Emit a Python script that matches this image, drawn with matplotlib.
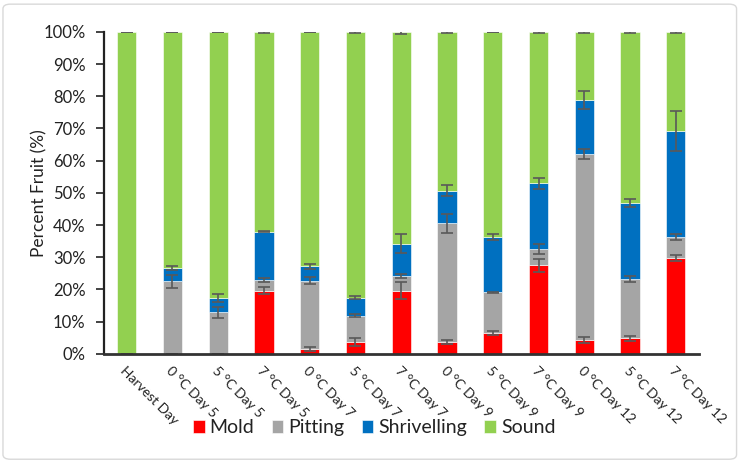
import matplotlib
matplotlib.use('Agg')
import matplotlib.pyplot as plt
from matplotlib.patches import FancyBboxPatch
from matplotlib.ticker import PercentFormatter
import numpy as np

plt.rcParams['font.family'] = ['Lato', 'DejaVu Sans']

# --- Data (percent of fruit) ---
labels = ['Harvest Day', '0 \u00b0C Day 5', '5 \u00b0C Day 5', '7 \u00b0C Day 5',
          '0 \u00b0C Day 7', '5 \u00b0C Day 7', '7 \u00b0C Day 7',
          '0 \u00b0C Day 9', '5 \u00b0C Day 9', '7 \u00b0C Day 9',
          '0 \u00b0C Day 12', '5 \u00b0C Day 12', '7 \u00b0C Day 12']

mold = [0, 0, 0, 19.6, 1.5, 3.8, 19.6, 3.8, 6.5, 27.5, 4.4, 4.8, 29.9]
pitting = [0, 22.5, 12.9, 3.3, 21.2, 8.1, 4.6, 36.7, 12.6, 5.0, 57.7, 18.5, 6.4]
shrivelling = [0, 4.2, 4.5, 15.0, 4.5, 5.6, 10.0, 10.2, 17.2, 20.5, 16.7, 23.6, 32.8]
sound = [100 - (m + p + s) for m, p, s in zip(mold, pitting, shrivelling)]

mold_err = [0, 0, 0, 1.1, 0.5, 1.2, 2.7, 0.6, 0.5, 2.0, 0.9, 0.9, 0.9]
pitting_err = [0, 2.0, 1.7, 0.7, 1.1, 0.5, 0.6, 2.9, 0.1, 1.5, 1.6, 0.9, 0.9]
shrivelling_err = [0, 0.5, 1.2, 0.2, 0.7, 0.4, 3.0, 1.8, 0.8, 1.7, 2.7, 1.2, 6.2]
sound_err = [0.1, 0.1, 0.1, 0.4, 0.1, 0.3, 0.8, 0.3, 0.1, 0.5, 0.4, 0.2, 0.2]

series = [('Mold', mold, mold_err, '#FF0000'),
          ('Pitting', pitting, pitting_err, '#A5A5A5'),
          ('Shrivelling', shrivelling, shrivelling_err, '#0070C0'),
          ('Sound', sound, sound_err, '#92D050')]

# --- Plot ---
fig = plt.figure(figsize=(7.41, 4.62), dpi=100)
ax = fig.add_axes([0.140, 0.234, 0.803, 0.697])

x = np.arange(len(labels))
bottom = np.zeros(len(labels))
for name, vals, err, col in series:
    vals = np.array(vals, dtype=float)
    ax.bar(x, vals, 0.42, bottom=bottom, color=col, label=name,
           edgecolor='white', linewidth=0.4)
    top = bottom + vals
    ax.errorbar(x, top, yerr=err, fmt='none', ecolor='#595959',
                elinewidth=1.2, capsize=4, capthick=1.2)
    bottom = top

ax.set_xlim(-0.5, len(labels) - 0.5)
ax.set_ylim(0, 100)
ax.set_yticks(np.arange(0, 101, 10))
ax.yaxis.set_major_formatter(PercentFormatter(decimals=0))
ax.set_ylabel('Percent Fruit (%)', fontsize=12.5, color='#222222', labelpad=-3)
ax.tick_params(axis='y', labelsize=12, length=6, width=1.2, pad=7,
               colors='#222222')
ax.tick_params(axis='x', length=0, pad=8)
ax.set_xticks(x)
ax.set_xticklabels(labels, rotation=-45, ha='left', rotation_mode='anchor',
                   fontsize=10, color='#222222')

for side in ['top', 'right']:
    ax.spines[side].set_visible(False)
ax.spines['left'].set_linewidth(1.6)
ax.spines['left'].set_color('#222222')
ax.spines['bottom'].set_linewidth(2.0)
ax.spines['bottom'].set_color('#333333')

fig.legend(loc='center', bbox_to_anchor=(0.505, 0.074), ncol=4, frameon=False,
           fontsize=14, handlelength=0.6, handleheight=0.6, handletextpad=0.25,
           columnspacing=0.9, labelcolor='#222222')

# Chart-area border
fig.patches.append(FancyBboxPatch((0.004, 0.006), 0.99, 0.985,
                                  boxstyle='round,pad=0,rounding_size=0.01',
                                  transform=fig.transFigure, fill=False,
                                  edgecolor='#D9D9D9', linewidth=1.0))

fig.savefig('out.png', dpi=100)
